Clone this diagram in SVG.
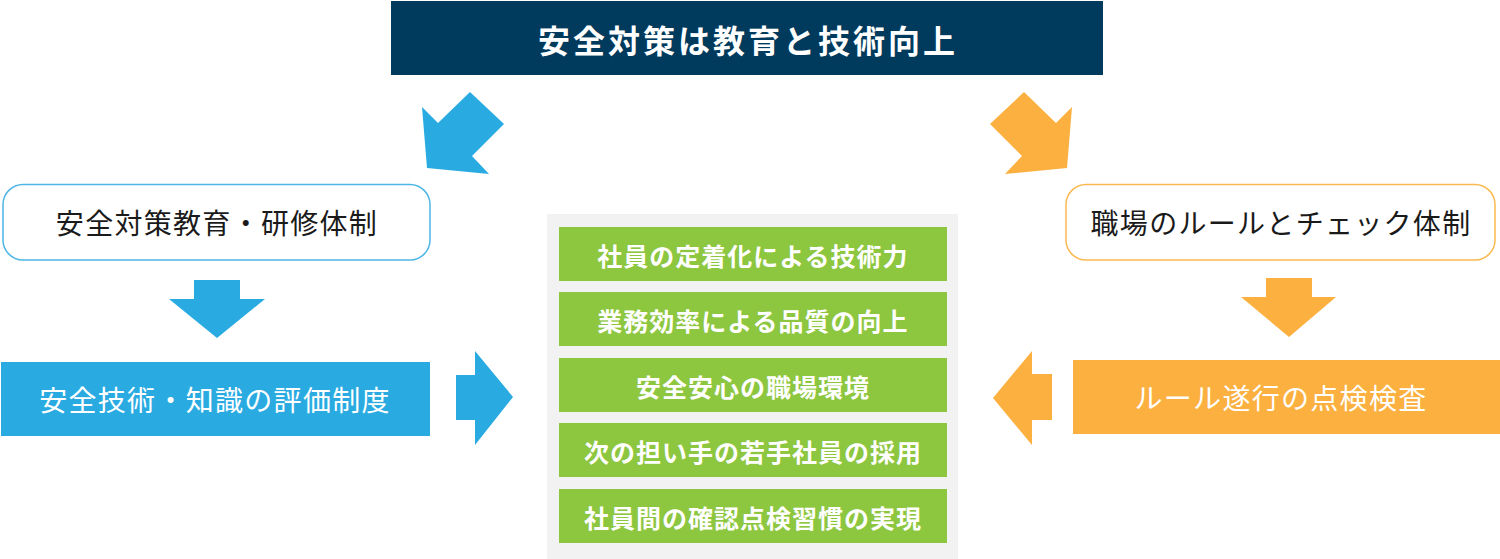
<svg xmlns="http://www.w3.org/2000/svg" width="1500" height="559" viewBox="0 0 1500 559">
<style>
text{font-family:"Noto Sans CJK JP","Noto Sans",sans-serif;text-anchor:middle;dominant-baseline:central}
.t-banner{font-size:32px;font-weight:bold;fill:#ffffff;letter-spacing:3px}
.t-side{font-size:28px;fill:#1a1a1a;letter-spacing:1.3px}
.t-fill{font-size:28px;fill:#ffffff;letter-spacing:1.3px}
.t-green{font-size:25px;font-weight:bold;fill:#ffffff;letter-spacing:1px}
.blue{fill:#29abe2}
.orange{fill:#fbb040}
.green{fill:#8dc63f}
</style>
<rect width="1500" height="559" fill="#ffffff"/>
<g id="banner">
<rect x="391" y="1" width="712" height="74" fill="#003a5c"/>
<text class="t-banner" x="748" y="39">安全対策は教育と技術向上</text>
</g>
<g id="left-top">
<rect x="3" y="184.5" width="427" height="75.5" rx="20" fill="#ffffff" stroke="#4db6e6" stroke-width="1.5"/>
<text class="t-side" x="217" y="222">安全対策教育・研修体制</text>
</g>
<g id="left-bottom">
<rect x="1" y="362" width="429" height="74" class="blue"/>
<text class="t-fill" x="215" y="399">安全技術・知識の評価制度</text>
</g>
<g id="right-top">
<rect x="1066" y="184.5" width="429" height="75.5" rx="20" fill="#ffffff" stroke="#fbb94f" stroke-width="1.5"/>
<text class="t-side" x="1281" y="222">職場のルールとチェック体制</text>
</g>
<g id="right-bottom">
<rect x="1073" y="360" width="427" height="74" class="orange"/>
<text class="t-fill" x="1281" y="397">ルール遂行の点検検査</text>
</g>
<g id="center">
<rect x="547" y="214" width="411" height="345" fill="#f2f2f2"/>
<rect x="559" y="227" width="388" height="54" class="green"/>
<text class="t-green" x="753" y="255">社員の定着化による技術力</text>
<rect x="559" y="292" width="388" height="54" class="green"/>
<text class="t-green" x="753" y="320">業務効率による品質の向上</text>
<rect x="559" y="358" width="388" height="54" class="green"/>
<text class="t-green" x="753" y="386">安全安心の職場環境</text>
<rect x="559" y="423" width="388" height="54" class="green"/>
<text class="t-green" x="753" y="451">次の担い手の若手社員の採用</text>
<rect x="559" y="489" width="388" height="54" class="green"/>
<text class="t-green" x="753" y="517">社員間の確認点検習慣の実現</text>
</g>
<g id="connectors">
<polygon class="blue" points="470,92 504,124 472,156 489,174 427,168 422,107 438,123"/>
<polygon class="orange" points="1024,92 990,124 1022,156 1005,174 1067,168 1072,107 1056,123"/>
<polygon class="blue" points="194,280 240,280 240,299 265,299 217,338 169,299 194,299"/>
<polygon class="orange" points="1266,278 1312,278 1312,297 1336,297 1289,337 1241,297 1266,297"/>
<polygon class="blue" points="456,375 475,375 475,351 513,397 475,445 475,420 456,420"/>
<polygon class="orange" points="1052,374 1032,374 1032,351 993,398 1032,445 1032,420 1052,420"/>
</g>
</svg>
